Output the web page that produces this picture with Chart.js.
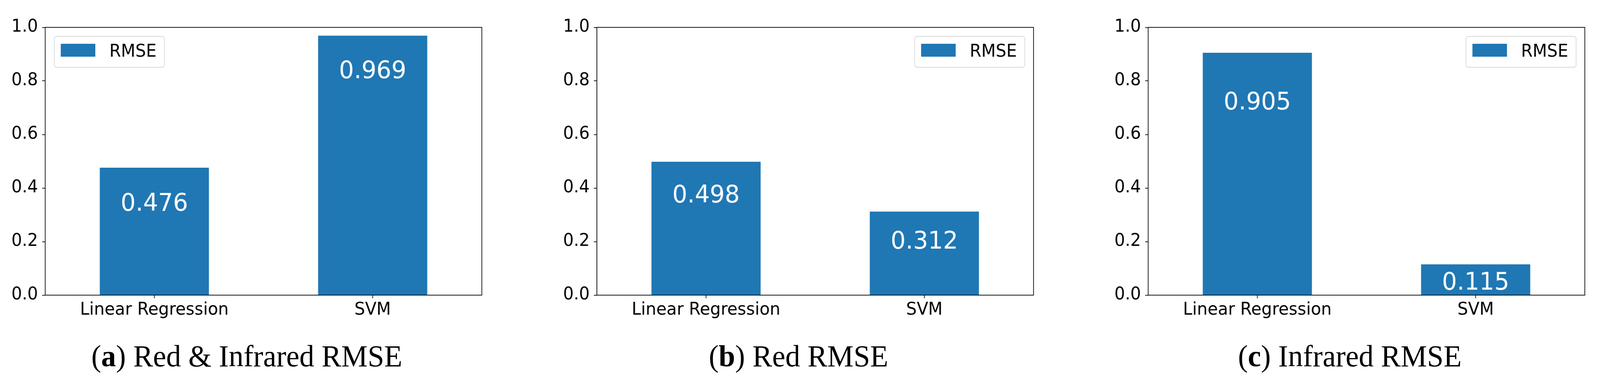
<!DOCTYPE html>
<html>
<head>
<meta charset="utf-8">
<script src="https://cdn.jsdelivr.net/npm/chart.js@4.4.1/dist/chart.umd.min.js"></script>
<style>
  html, body { margin: 0; padding: 0; background: #fff; overflow: hidden; }
  #figure { width: 4214px; height: 990px; position: relative; transform-origin: 0 0; }
  .panel { position: absolute; top: 0; width: 1300px; height: 830px; }
  .caption {
    position: absolute; top: 872px;
    font-family: "Liberation Serif", "Times New Roman", serif;
    font-size: 78px; line-height: 78px; white-space: nowrap;
    transform: translateX(-50%); color: #000;
  }
</style>
</head>
<body>
<div id="figure">
  <div class="panel" style="left:0px"><canvas id="chartA" width="1300" height="830"></canvas></div>
  <div class="panel" style="left:1453px"><canvas id="chartB" width="1300" height="830"></canvas></div>
  <div class="panel" style="left:2905px"><canvas id="chartC" width="1300" height="830"></canvas></div>

  <div class="caption" style="left:650px">(<b>a</b>) Red &amp; Infrared RMSE</div>
  <div class="caption" style="left:2103px">(<b>b</b>) Red RMSE</div>
  <div class="caption" style="left:3555px">(<b>c</b>) Infrared RMSE</div>
</div>

<script>
// categories and values
const models = ['Linear Regression', 'SVM'];
const rmseRedInfrared = [0.476, 0.969];
const rmseRed = [0.498, 0.312];
const rmseInfrared = [0.905, 0.115];
const yTicks = [0.0, 0.2, 0.4, 0.6, 0.8, 1.0];
const seriesName = 'RMSE';

const barColor = '#1f77b4';
const tickFont = { family: 'DejaVu Sans', size: 44 };

// the browser window may be narrower than the 4214px figure: squeeze it to fit
const fig = document.getElementById('figure');
const sx = Math.min(1, window.innerWidth / 4214);
fig.style.transform = 'scale(' + sx + ', 1)';

// full box around the plot area (matplotlib spines)
const framePlugin = {
    id: 'frame',
    afterDatasetsDraw(chart) {
        const a = chart.chartArea, c = chart.ctx;
        c.save();
        c.strokeStyle = '#000';
        c.lineWidth = 1.8;
        c.strokeRect(a.left, a.top, a.right - a.left, a.bottom - a.top);
        c.restore();
    }
};

// legend box drawn inside the plot area
const boxLegend = {
    id: 'boxLegend',
    afterDraw(chart, args, opts) {
        const a = chart.chartArea, c = chart.ctx;
        const w = 290, h = 79;
        const x = opts.side === 'left' ? a.left + 24 : a.right - 23 - w;
        const y = a.top + 23;
        c.save();
        c.beginPath();
        c.roundRect(x, y, w, h, 6);
        c.fillStyle = 'rgba(255,255,255,0.8)';
        c.fill();
        c.strokeStyle = '#d9d9d9';
        c.lineWidth = 1.8;
        c.stroke();
        const ds = chart.data.datasets[0];
        c.fillStyle = ds.backgroundColor;
        c.fillRect(x + 17, y + 19, 91, 33);
        c.fillStyle = '#000';
        c.font = '44px "DejaVu Sans"';
        c.textAlign = 'left';
        c.textBaseline = 'alphabetic';
        c.fillText(ds.label, x + 145, y + 52);
        c.restore();
    }
};

// white value text inside each bar
const barValues = {
    id: 'barValues',
    afterDatasetsDraw(chart, args, opts) {
        const c = chart.ctx, ys = chart.scales.y;
        const ds = chart.data.datasets[0];
        const size = 62;
        c.save();
        c.fillStyle = '#fff';
        c.font = size + 'px "DejaVu Sans"';
        c.textAlign = 'center';
        c.textBaseline = 'alphabetic';
        chart.getDatasetMeta(0).data.forEach(function(bar, i) {
            const yc = ys.getPixelForValue(opts.at[i]);
            c.fillText(ds.data[i].toFixed(3), bar.x, yc + 0.3645 * size);
        });
        c.restore();
    }
};

function makeChart(id, values, legendSide, labelAt) {
    return new Chart(document.getElementById(id), {
        type: 'bar',
        data: {
            labels: models,
            datasets: [{
                label: seriesName,
                data: values,
                backgroundColor: barColor,
                borderWidth: 0,
                categoryPercentage: 1.0,
                barPercentage: 0.5
            }]
        },
        options: {
            responsive: false,
            devicePixelRatio: 1,
            animation: false,
            layout: { padding: { top: 70, right: 31, left: 0, bottom: 0 } },
            plugins: {
                legend: { display: false },
                tooltip: { enabled: false },
                boxLegend: { side: legendSide },
                barValues: { at: labelAt }
            },
            scales: {
                x: {
                    offset: true,
                    border: { display: false },
                    grid: {
                        offset: false,
                        drawOnChartArea: false,
                        tickLength: 8,
                        tickWidth: 1.8,
                        tickColor: '#000'
                    },
                    ticks: { color: '#000', font: tickFont, padding: 4, maxRotation: 0 },
                    afterFit: function(s) { s.height = 75; }
                },
                y: {
                    min: 0,
                    max: 1,
                    border: { display: false },
                    grid: {
                        drawOnChartArea: false,
                        tickLength: 8,
                        tickWidth: 1.8,
                        tickColor: '#000'
                    },
                    afterBuildTicks: function(s) {
                        s.ticks = yTicks.map(v => ({ value: v }));
                    },
                    ticks: {
                        color: '#000',
                        font: tickFont,
                        padding: 11,
                        callback: v => Number(v).toFixed(1)
                    },
                    afterFit: function(s) { s.width = 119; }
                }
            }
        },
        plugins: [framePlugin, boxLegend, barValues]
    });
}

makeChart('chartA', rmseRedInfrared, 'left', [0.349, 0.843]);
makeChart('chartB', rmseRed, 'right', [0.379, 0.206]);
makeChart('chartC', rmseInfrared, 'right', [0.727, 0.053]);
</script>
</body>
</html>
